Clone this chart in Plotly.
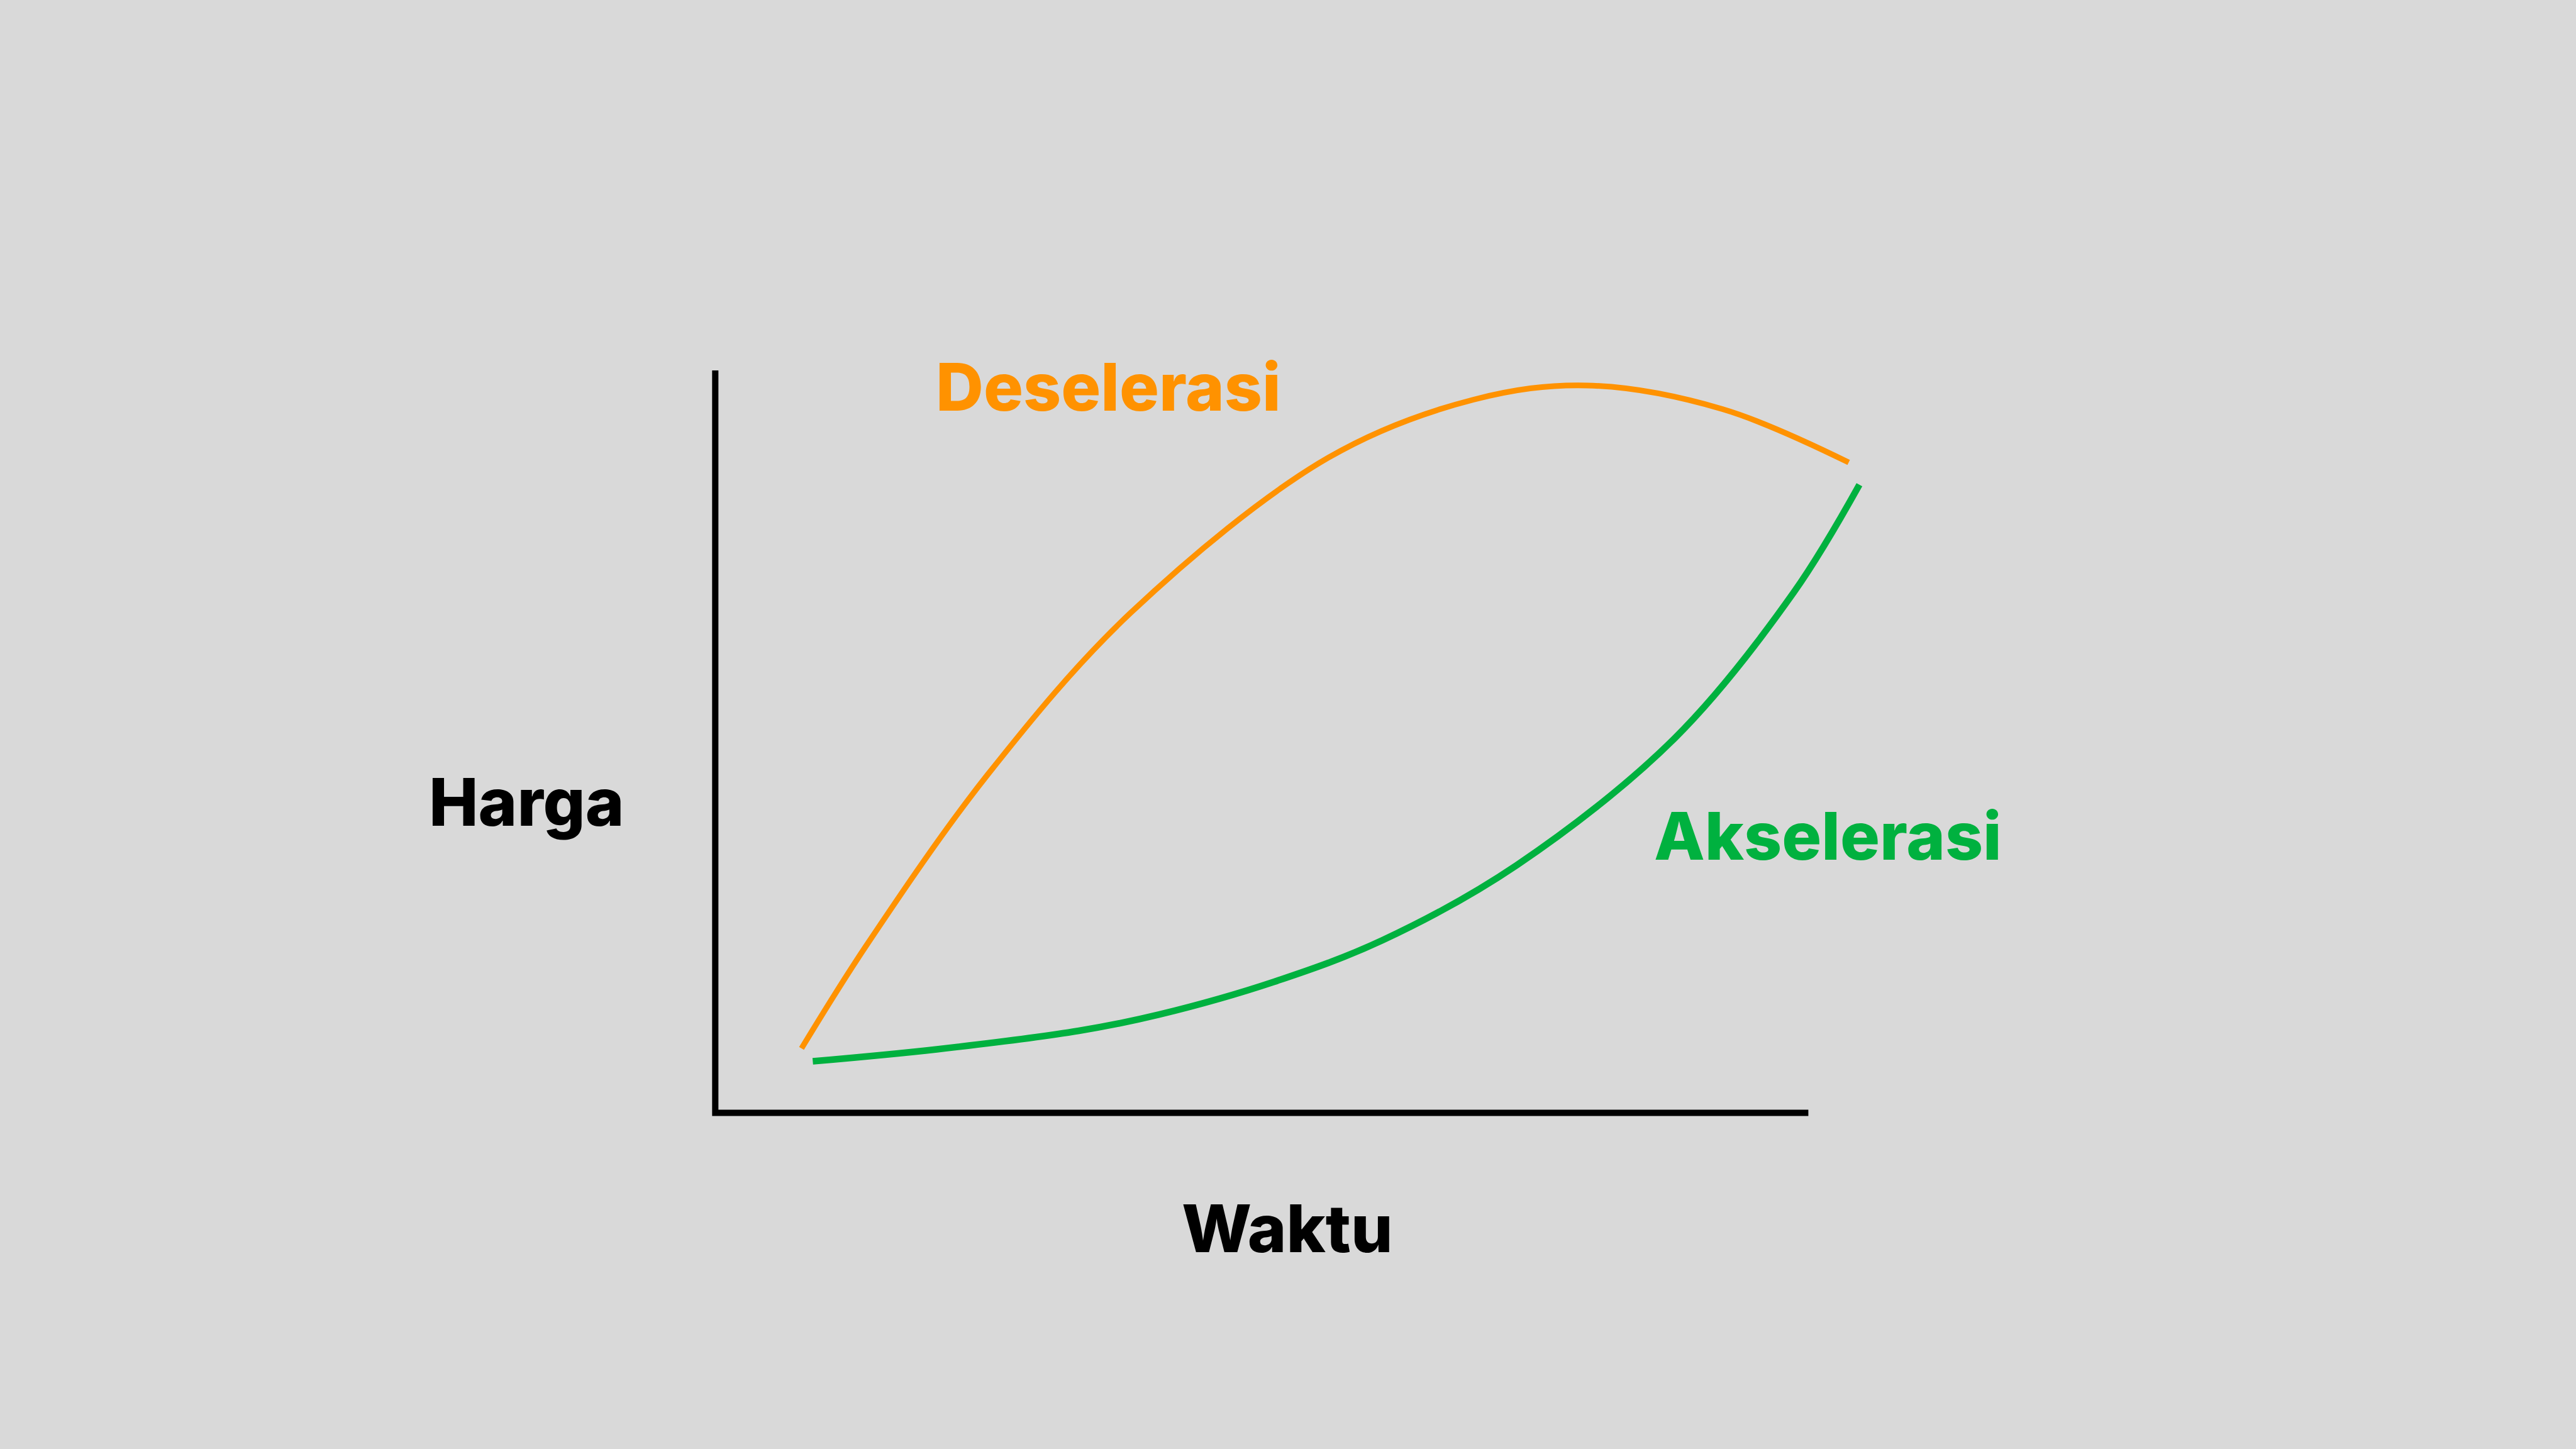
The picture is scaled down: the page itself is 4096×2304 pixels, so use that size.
import plotly.graph_objects as go

# ---- data (time / price in arbitrary units, axes run 0..10) ----
desel_t = [0.789, 1.375, 2.490, 3.798, 5.609, 6.936, 7.977, 9.214, 10.369]
desel_p = [0.868, 2.238, 4.552, 6.732, 8.826, 9.607, 9.798, 9.480, 8.762]

aksel_t = [0.892, 2.027, 3.327, 4.061, 5.110, 6.104, 7.333, 8.775, 9.866, 10.467]
aksel_p = [0.694, 0.856, 1.105, 1.324, 1.764, 2.325, 3.337, 5.043, 7.010, 8.461]

axis_t = [0, 0, 10]
axis_p = [10, 0, 0]

labels = ["Deselerasi", "Akselerasi", "Harga", "Waktu"]
label_t = [3.598, 10.181, -1.728, 5.234]
label_p = [9.783, 3.739, 4.190, -1.547]

ORANGE = "#FF9200"
GREEN = "#00B13F"
BLACK = "#000000"
BG = "#D9D9D9"
label_colors = [ORANGE, GREEN, BLACK, BLACK]

fig = go.Figure()

fig.add_trace(go.Scatter(
    x=axis_t, y=axis_p, mode="lines",
    line=dict(color=BLACK, width=10, simplify=False),
    hoverinfo="skip",
))
fig.add_trace(go.Scatter(
    x=desel_t, y=desel_p, mode="lines",
    line=dict(color=ORANGE, width=9, shape="spline", smoothing=1.0, simplify=False),
    hoverinfo="skip",
))
fig.add_trace(go.Scatter(
    x=aksel_t, y=aksel_p, mode="lines",
    line=dict(color=GREEN, width=10.5, shape="spline", smoothing=1.0, simplify=False),
    hoverinfo="skip",
))

for txt, tx, py, col in zip(labels, label_t, label_p, label_colors):
    fig.add_annotation(
        x=tx, y=py, xref="x", yref="y", text=txt, showarrow=False,
        xanchor="center", yanchor="middle",
        font=dict(family="Inter, 'Open Sans', sans-serif", size=105, color=col, weight=800),
    )

fig.update_layout(
    width=4096, height=2304,
    margin=dict(l=0, r=0, t=0, b=0),
    paper_bgcolor=BG, plot_bgcolor=BG,
    showlegend=False,
    xaxis=dict(range=[-6.5436, 17.0228], visible=False, fixedrange=True),
    yaxis=dict(range=[-4.5286, 14.991], visible=False, fixedrange=True),
)

fig.write_html("out.html")
